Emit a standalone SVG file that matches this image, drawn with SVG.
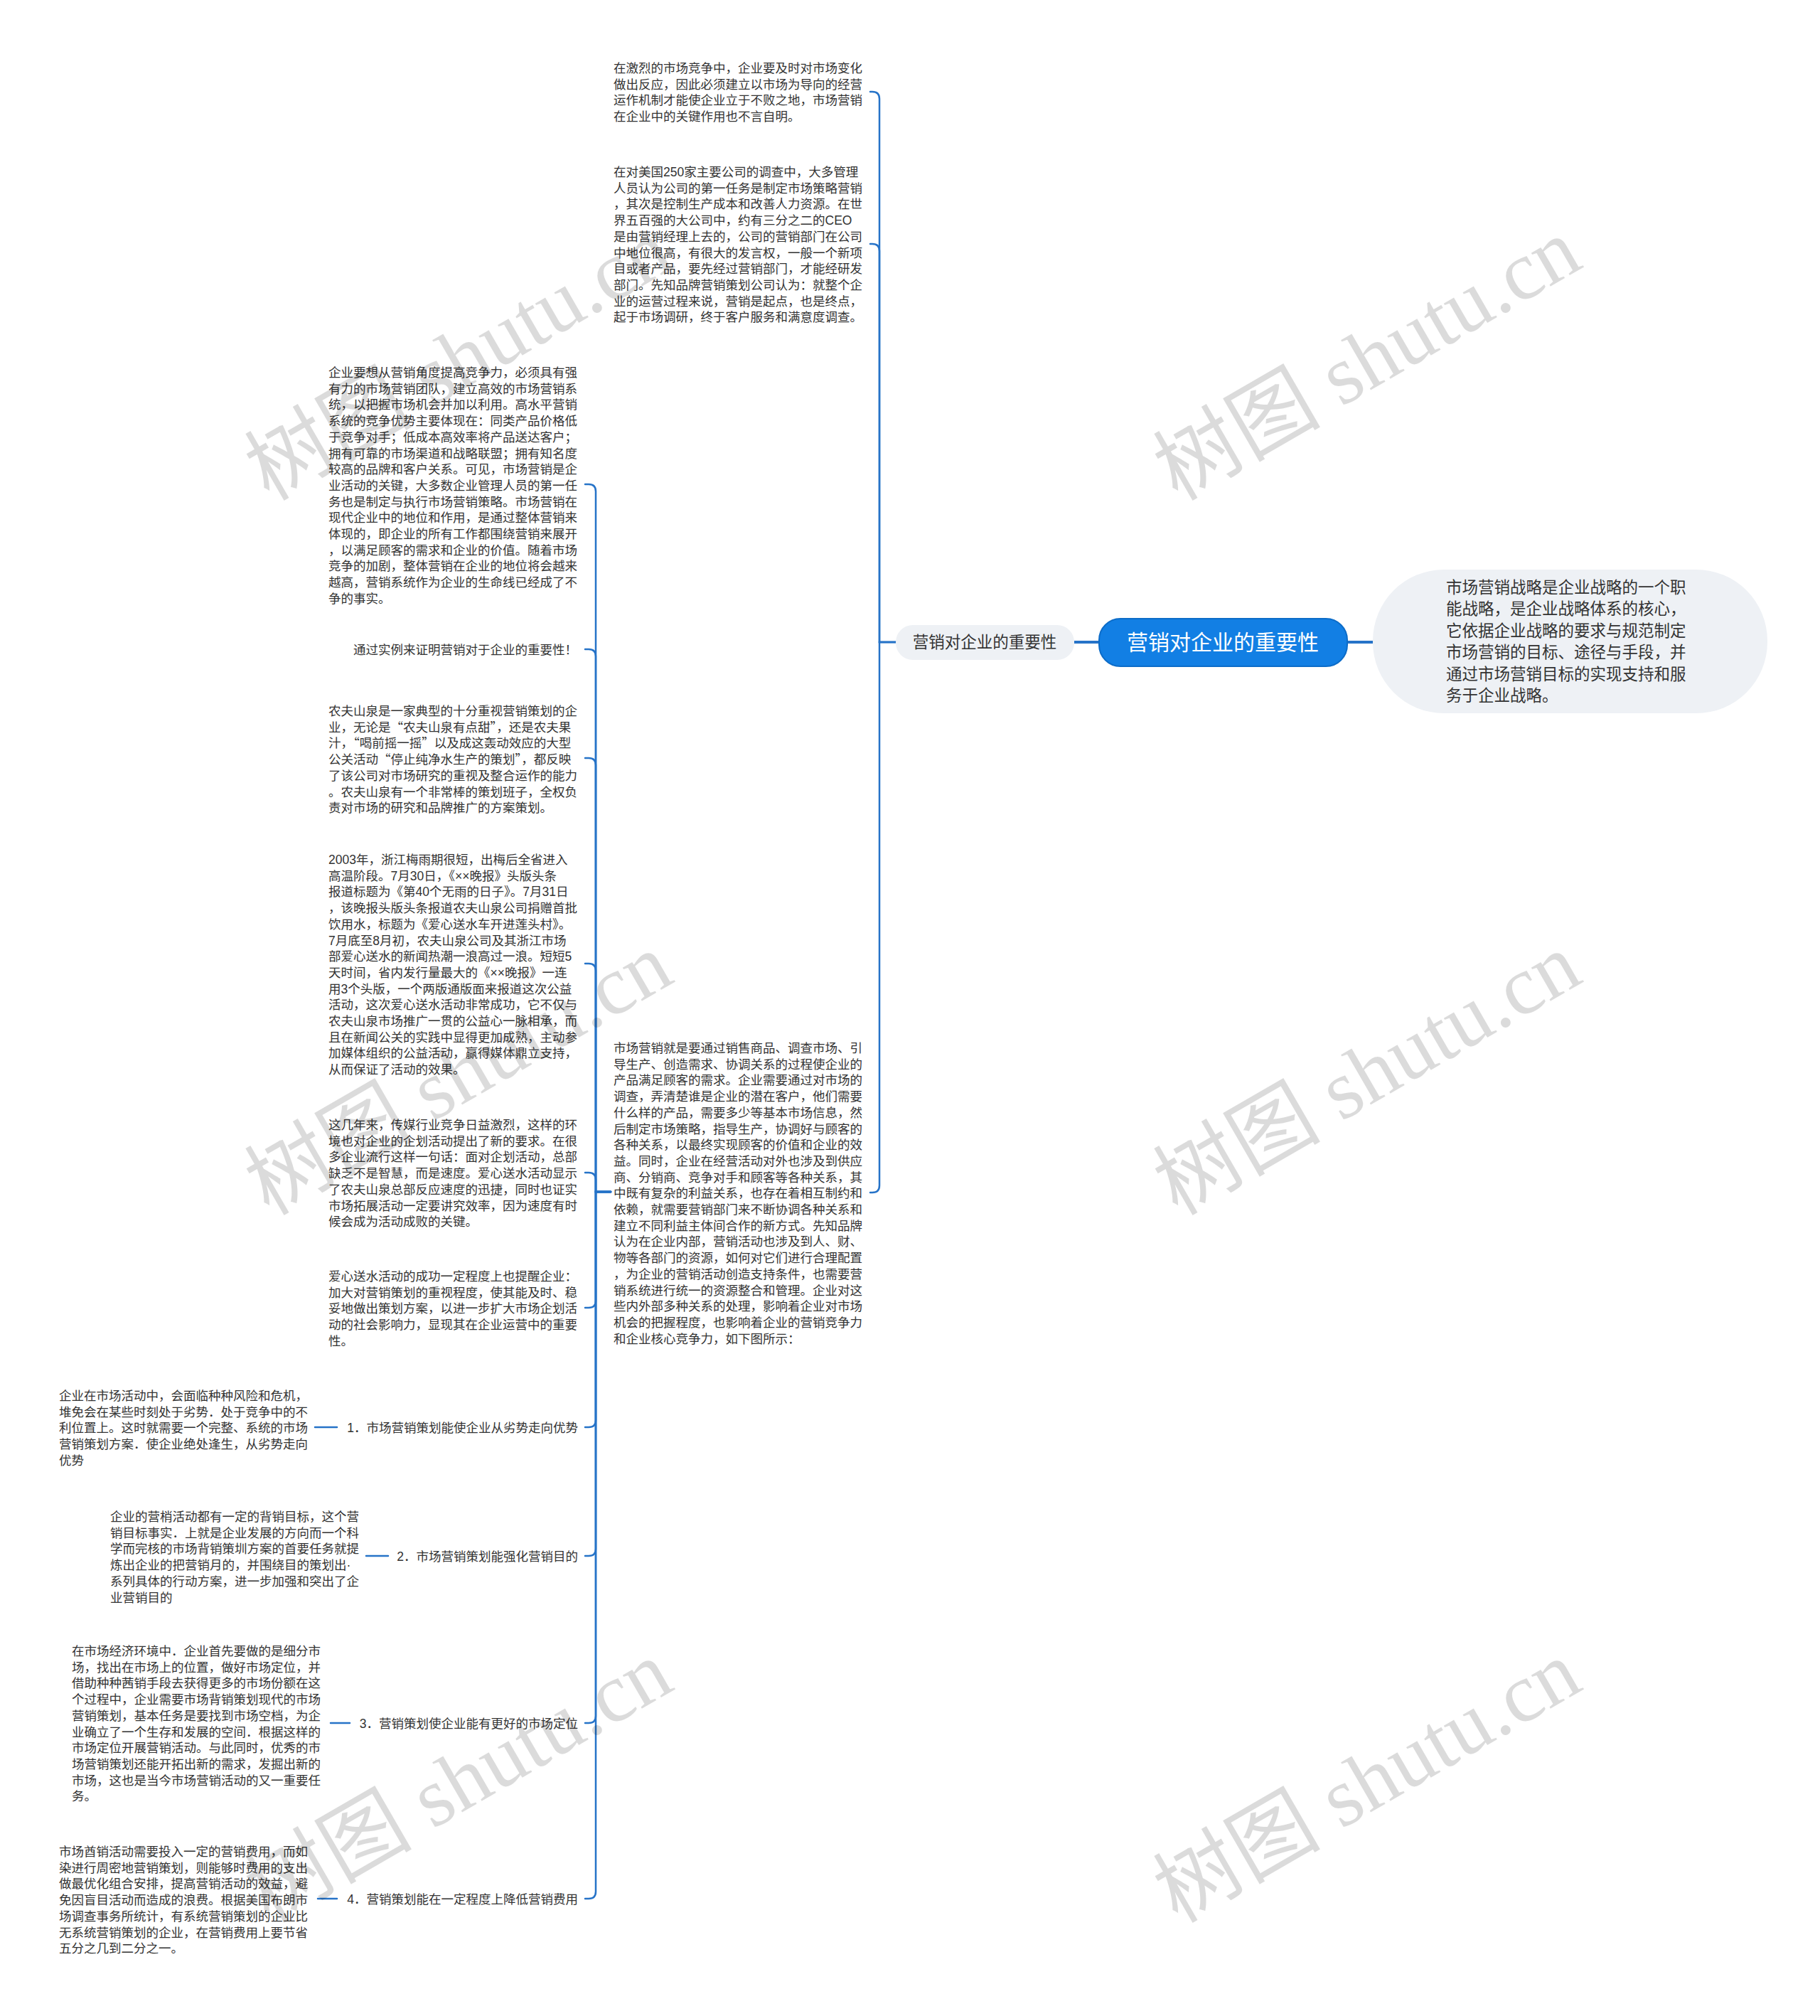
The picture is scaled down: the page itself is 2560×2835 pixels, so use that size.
<svg xmlns="http://www.w3.org/2000/svg" width="2560" height="2835" viewBox="0 0 2560 2835">
<style>
.t{font-family:"Liberation Sans","Noto Sans CJK SC",sans-serif;font-size:17.5px;fill:#333}
.q{font-family:"Noto Sans CJK SC",sans-serif}
.n2{font-family:"Liberation Sans","Noto Sans CJK SC",sans-serif;font-size:22.5px;fill:#333}
.c{font-family:"Liberation Sans","Noto Sans CJK SC",sans-serif;font-size:30px;fill:#fff}
.ln{fill:none;stroke:#2673c8;stroke-width:2.5;stroke-linecap:round}
.lm{fill:none;stroke:#2673c8;stroke-width:4}
.wm{font-family:"Liberation Serif","Noto Sans CJK SC",serif;font-size:118px;fill:#000;fill-opacity:0.14}
</style>
<rect width="2560" height="2835" fill="#fff"/>
<g id="connectors">
<path class="lm" d="M1511,903 H1546"/>
<path class="lm" d="M1895,903 H1931"/>
<path class="ln" d="M1260,903 H1237 V139 Q1237,129 1227,129 H1224"/>
<path class="ln" d="M1260,903 H1237 V353 Q1237,343 1227,343 H1224"/>
<path class="ln" d="M1260,903 H1237 V1667 Q1237,1677 1227,1677 H1224"/>
<path class="ln" d="M859,1676 H838 V691 Q838,681 828,681 H823"/>
<path class="ln" d="M859,1676 H838 V923 Q838,913 828,913 H823"/>
<path class="ln" d="M859,1676 H838 V1076 Q838,1066 828,1066 H823"/>
<path class="ln" d="M859,1676 H838 V1365 Q838,1355 828,1355 H823"/>
<path class="ln" d="M859,1676 H838 V1659 Q838,1649 828,1649 H823"/>
<path class="ln" d="M859,1676 H838 V1829 Q838,1839 828,1839 H823"/>
<path class="ln" d="M859,1676 H838 V1997 Q838,2007 828,2007 H823"/>
<path class="ln" d="M859,1676 H838 V2178 Q838,2188 828,2188 H823"/>
<path class="ln" d="M859,1676 H838 V2413 Q838,2423 828,2423 H823"/>
<path class="ln" d="M859,1676 H838 V2660 Q838,2670 828,2670 H823"/>
<path class="ln" d="M443,2007 H474"/>
<path class="ln" d="M515,2188 H546"/>
<path class="ln" d="M465,2423 H492"/>
<path class="ln" d="M447,2670 H474"/>
</g>
<g id="root">
<rect x="1546" y="870" width="349" height="67" rx="30" fill="#127fe4" stroke="#0c6cc8" stroke-width="2"/>
<text class="c" x="1720" y="914" text-anchor="middle">营销对企业的重要性</text>
</g>
<g id="strategy">
<rect x="1931" y="801" width="555" height="202" rx="100" fill="#eef1f5"/>
<text class="n2"><tspan x="2034" y="834">市场营销战略是企业战略的一个职</tspan><tspan x="2034" dy="30.4">能战略，是企业战略体系的核心，</tspan><tspan x="2034" dy="30.4">它依据企业战略的要求与规范制定</tspan><tspan x="2034" dy="30.4">市场营销的目标、途径与手段，并</tspan><tspan x="2034" dy="30.4">通过市场营销目标的实现支持和服</tspan><tspan x="2034" dy="30.4">务于企业战略。</tspan></text>
</g>
<g id="importance">
<rect x="1260" y="879" width="251" height="49" rx="24" fill="#eef1f5"/>
<text class="n2" x="1385" y="911" text-anchor="middle">营销对企业的重要性</text>
</g>
<g id="r1">
<text class="t"><tspan x="863" y="102">在激烈的市场竞争中，企业要及时对市场变化</tspan><tspan x="863" dy="22.7">做出反应，因此必须建立以市场为导向的经营</tspan><tspan x="863" dy="22.7">运作机制才能使企业立于不败之地，市场营销</tspan><tspan x="863" dy="22.7">在企业中的关键作用也不言自明。</tspan></text>
</g>
<g id="r2">
<text class="t"><tspan x="863" y="248">在对美国250家主要公司的调查中，大多管理</tspan><tspan x="863" dy="22.7">人员认为公司的第一任务是制定市场策略营销</tspan><tspan x="863" dy="22.7">，其次是控制生产成本和改善人力资源。在世</tspan><tspan x="863" dy="22.7">界五百强的大公司中，约有三分之二的CEO</tspan><tspan x="863" dy="22.7">是由营销经理上去的，公司的营销部门在公司</tspan><tspan x="863" dy="22.7">中地位很高，有很大的发言权，一般一个新项</tspan><tspan x="863" dy="22.7">目或者产品，要先经过营销部门，才能经研发</tspan><tspan x="863" dy="22.7">部门。先知品牌营销策划公司认为：就整个企</tspan><tspan x="863" dy="22.7">业的运营过程来说，营销是起点，也是终点，</tspan><tspan x="863" dy="22.7">起于市场调研，终于客户服务和满意度调查。</tspan></text>
</g>
<g id="r3">
<text class="t"><tspan x="863" y="1480">市场营销就是要通过销售商品、调查市场、引</tspan><tspan x="863" dy="22.7">导生产、创造需求、协调关系的过程使企业的</tspan><tspan x="863" dy="22.7">产品满足顾客的需求。企业需要通过对市场的</tspan><tspan x="863" dy="22.7">调查，弄清楚谁是企业的潜在客户，他们需要</tspan><tspan x="863" dy="22.7">什么样的产品，需要多少等基本市场信息，然</tspan><tspan x="863" dy="22.7">后制定市场策略，指导生产，协调好与顾客的</tspan><tspan x="863" dy="22.7">各种关系，以最终实现顾客的价值和企业的效</tspan><tspan x="863" dy="22.7">益。同时，企业在经营活动对外也涉及到供应</tspan><tspan x="863" dy="22.7">商、分销商、竞争对手和顾客等各种关系，其</tspan><tspan x="863" dy="22.7">中既有复杂的利益关系，也存在着相互制约和</tspan><tspan x="863" dy="22.7">依赖，就需要营销部门来不断协调各种关系和</tspan><tspan x="863" dy="22.7">建立不同利益主体间合作的新方式。先知品牌</tspan><tspan x="863" dy="22.7">认为在企业内部，营销活动也涉及到人、财、</tspan><tspan x="863" dy="22.7">物等各部门的资源，如何对它们进行合理配置</tspan><tspan x="863" dy="22.7">，为企业的营销活动创造支持条件，也需要营</tspan><tspan x="863" dy="22.7">销系统进行统一的资源整合和管理。企业对这</tspan><tspan x="863" dy="22.7">些内外部多种关系的处理，影响着企业对市场</tspan><tspan x="863" dy="22.7">机会的把握程度，也影响着企业的营销竞争力</tspan><tspan x="863" dy="22.7">和企业核心竞争力，如下图所示：</tspan></text>
</g>
<g id="l1">
<text class="t"><tspan x="462" y="530">企业要想从营销角度提高竞争力，必须具有强</tspan><tspan x="462" dy="22.7">有力的市场营销团队，建立高效的市场营销系</tspan><tspan x="462" dy="22.7">统，以把握市场机会并加以利用。高水平营销</tspan><tspan x="462" dy="22.7">系统的竞争优势主要体现在：同类产品价格低</tspan><tspan x="462" dy="22.7">于竞争对手；低成本高效率将产品送达客户；</tspan><tspan x="462" dy="22.7">拥有可靠的市场渠道和战略联盟；拥有知名度</tspan><tspan x="462" dy="22.7">较高的品牌和客户关系。可见，市场营销是企</tspan><tspan x="462" dy="22.7">业活动的关键，大多数企业管理人员的第一任</tspan><tspan x="462" dy="22.7">务也是制定与执行市场营销策略。市场营销在</tspan><tspan x="462" dy="22.7">现代企业中的地位和作用，是通过整体营销来</tspan><tspan x="462" dy="22.7">体现的，即企业的所有工作都围绕营销来展开</tspan><tspan x="462" dy="22.7">，以满足顾客的需求和企业的价值。随着市场</tspan><tspan x="462" dy="22.7">竞争的加剧，整体营销在企业的地位将会越来</tspan><tspan x="462" dy="22.7">越高，营销系统作为企业的生命线已经成了不</tspan><tspan x="462" dy="22.7">争的事实。</tspan></text>
</g>
<g id="l2">
<text class="t" x="812" y="920" text-anchor="end">通过实例来证明营销对于企业的重要性！</text>
</g>
<g id="l3">
<text class="t"><tspan x="462" y="1006">农夫山泉是一家典型的十分重视营销策划的企</tspan><tspan x="462" dy="22.7">业，无论是<tspan class="q">“</tspan>农夫山泉有点甜<tspan class="q">”</tspan>，还是农夫果</tspan><tspan x="462" dy="22.7">汁，<tspan class="q">“</tspan>喝前摇一摇<tspan class="q">”</tspan>以及成这轰动效应的大型</tspan><tspan x="462" dy="22.7">公关活动<tspan class="q">“</tspan>停止纯净水生产的策划<tspan class="q">”</tspan>，都反映</tspan><tspan x="462" dy="22.7">了该公司对市场研究的重视及整合运作的能力</tspan><tspan x="462" dy="22.7">。农夫山泉有一个非常棒的策划班子，全权负</tspan><tspan x="462" dy="22.7">责对市场的研究和品牌推广的方案策划。</tspan></text>
</g>
<g id="l4">
<text class="t"><tspan x="462" y="1215">2003年，浙江梅雨期很短，出梅后全省进入</tspan><tspan x="462" dy="22.7">高温阶段。7月30日，《××晚报》头版头条</tspan><tspan x="462" dy="22.7">报道标题为《第40个无雨的日子》。7月31日</tspan><tspan x="462" dy="22.7">，该晚报头版头条报道农夫山泉公司捐赠首批</tspan><tspan x="462" dy="22.7">饮用水，标题为《爱心送水车开进莲头村》。</tspan><tspan x="462" dy="22.7">7月底至8月初，农夫山泉公司及其浙江市场</tspan><tspan x="462" dy="22.7">部爱心送水的新闻热潮一浪高过一浪。短短5</tspan><tspan x="462" dy="22.7">天时间，省内发行量最大的《××晚报》一连</tspan><tspan x="462" dy="22.7">用3个头版，一个两版通版面来报道这次公益</tspan><tspan x="462" dy="22.7">活动，这次爱心送水活动非常成功，它不仅与</tspan><tspan x="462" dy="22.7">农夫山泉市场推广一贯的公益心一脉相承，而</tspan><tspan x="462" dy="22.7">且在新闻公关的实践中显得更加成熟，主动参</tspan><tspan x="462" dy="22.7">加媒体组织的公益活动，赢得媒体鼎立支持，</tspan><tspan x="462" dy="22.7">从而保证了活动的效果。</tspan></text>
</g>
<g id="l5">
<text class="t"><tspan x="462" y="1588">这几年来，传媒行业竞争日益激烈，这样的环</tspan><tspan x="462" dy="22.7">境也对企业的企划活动提出了新的要求。在很</tspan><tspan x="462" dy="22.7">多企业流行这样一句话：面对企划活动，总部</tspan><tspan x="462" dy="22.7">缺乏不是智慧，而是速度。爱心送水活动显示</tspan><tspan x="462" dy="22.7">了农夫山泉总部反应速度的迅捷，同时也证实</tspan><tspan x="462" dy="22.7">市场拓展活动一定要讲究效率，因为速度有时</tspan><tspan x="462" dy="22.7">候会成为活动成败的关键。</tspan></text>
</g>
<g id="l6">
<text class="t"><tspan x="462" y="1801">爱心送水活动的成功一定程度上也提醒企业：</tspan><tspan x="462" dy="22.7">加大对营销策划的重视程度，使其能及时、稳</tspan><tspan x="462" dy="22.7">妥地做出策划方案，以进一步扩大市场企划活</tspan><tspan x="462" dy="22.7">动的社会影响力，显现其在企业运营中的重要</tspan><tspan x="462" dy="22.7">性。</tspan></text>
</g>
<g id="item1">
<text class="t" x="813" y="2014" text-anchor="end">1．市场营销策划能使企业从劣势走向优势</text>
</g>
<g id="item1-detail">
<text class="t"><tspan x="83" y="1969">企业在市场活动中，会面临种种风险和危机，</tspan><tspan x="83" dy="22.7">堆免会在某些时刻处于劣势．处于竞争中的不</tspan><tspan x="83" dy="22.7">利位置上。这时就需要一个完整、系统的市场</tspan><tspan x="83" dy="22.7">营销策划方案．使企业绝处逢生，从劣势走向</tspan><tspan x="83" dy="22.7">优势</tspan></text>
</g>
<g id="item2">
<text class="t" x="813" y="2195" text-anchor="end">2．市场营销策划能强化营销目的</text>
</g>
<g id="item2-detail">
<text class="t"><tspan x="155" y="2139">企业的营梢活动都有一定的背销目标，这个营</tspan><tspan x="155" dy="22.7">销目标事实．上就是企业发展的方向而一个科</tspan><tspan x="155" dy="22.7">学而完核的市场背销策圳方案的首要任务就提</tspan><tspan x="155" dy="22.7">炼出企业的把营销月的，并围绕目的策划出·</tspan><tspan x="155" dy="22.7">系列具体的行动方案，进一步加强和突出了企</tspan><tspan x="155" dy="22.7">业营销目的</tspan></text>
</g>
<g id="item3">
<text class="t" x="813" y="2430" text-anchor="end">3．营销策划使企业能有更好的市场定位</text>
</g>
<g id="item3-detail">
<text class="t"><tspan x="101" y="2328">在市场经济环境中．企业首先要做的是细分市</tspan><tspan x="101" dy="22.7">场，找出在市场上的位置，做好市场定位，并</tspan><tspan x="101" dy="22.7">借助种种茜销手段去获得更多的市场份额在这</tspan><tspan x="101" dy="22.7">个过程中，企业需要市场背销策划现代的市场</tspan><tspan x="101" dy="22.7">营销策划，基本任务是要找到市场空档，为企</tspan><tspan x="101" dy="22.7">业确立了一个生存和发展的空间．根据这样的</tspan><tspan x="101" dy="22.7">市场定位开展营销活动。与此同时，优秀的市</tspan><tspan x="101" dy="22.7">场营销策划还能开拓出新的需求，发掘出新的</tspan><tspan x="101" dy="22.7">市场，这也是当今市场营销活动的又一重要任</tspan><tspan x="101" dy="22.7">务。</tspan></text>
</g>
<g id="item4">
<text class="t" x="813" y="2677" text-anchor="end">4．营销策划能在一定程度上降低营销费用</text>
</g>
<g id="item4-detail">
<text class="t"><tspan x="83" y="2610">市场酋销活动需要投入一定的营销费用，而如</tspan><tspan x="83" dy="22.7">染进行周密地营销策划，则能够时费用的支出</tspan><tspan x="83" dy="22.7">做最优化组合安排，提高营销活动的效益，避</tspan><tspan x="83" dy="22.7">免因盲目活动而造成的浪费。根据美国布朗市</tspan><tspan x="83" dy="22.7">场调查事务所统计，有系统营销策划的企业比</tspan><tspan x="83" dy="22.7">无系统营销策划的企业，在营销费用上要节省</tspan><tspan x="83" dy="22.7">五分之几到二分之一。</tspan></text>
</g>
<g id="watermarks" class="wm" text-anchor="middle">
<text transform="translate(665,540) rotate(-30)">树图 shutu.cn</text>
<text transform="translate(1943,540) rotate(-30)">树图 shutu.cn</text>
<text transform="translate(665,1545) rotate(-30)">树图 shutu.cn</text>
<text transform="translate(1943,1545) rotate(-30)">树图 shutu.cn</text>
<text transform="translate(665,2540) rotate(-30)">树图 shutu.cn</text>
<text transform="translate(1943,2540) rotate(-30)">树图 shutu.cn</text>
</g>
</svg>
